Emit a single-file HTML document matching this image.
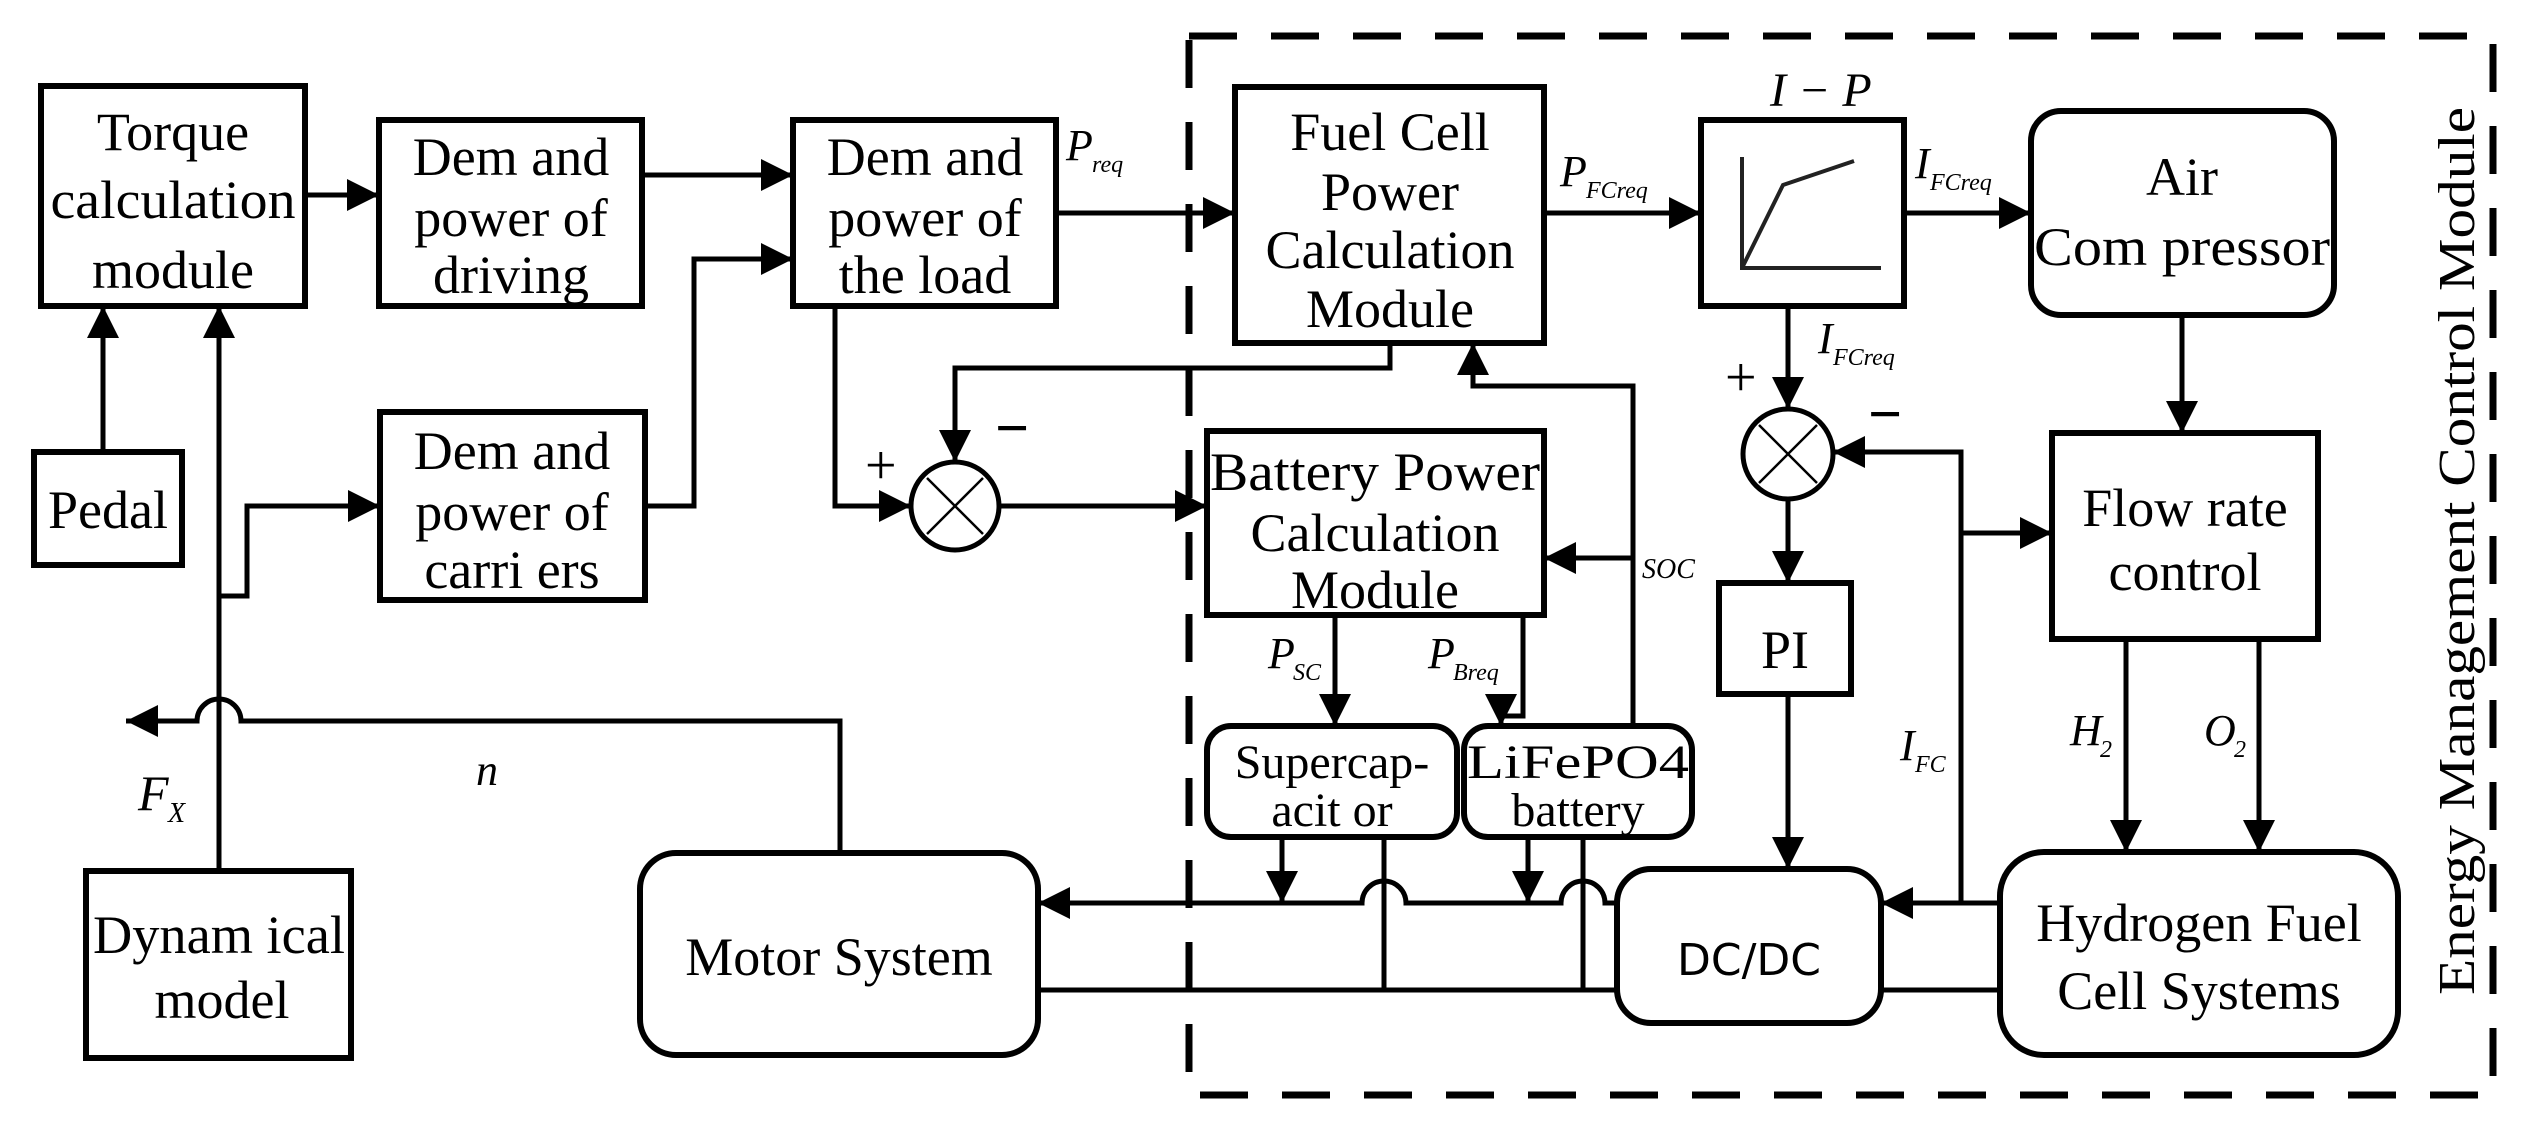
<!DOCTYPE html>
<html><head><meta charset="utf-8"><style>
html,body{margin:0;padding:0;background:#fff;}
svg{display:block;}
text{font-family:"Liberation Serif",serif;fill:#000;}
.b{font-size:54px;}
.s{font-size:48px;}
.i{font-style:italic;font-size:44px;}
.sub{font-style:italic;font-size:24px;}
</style></head><body>
<svg width="2528" height="1122" viewBox="0 0 2528 1122" xmlns="http://www.w3.org/2000/svg">
<defs>
<marker id="a" markerUnits="userSpaceOnUse" markerWidth="34" markerHeight="32" refX="32" refY="16" orient="auto">
<path d="M0,0 L32,16 L0,32 z" fill="#000"/></marker>
</defs>
<rect x="0" y="0" width="2528" height="1122" fill="#fff"/>
<!-- dashed module -->
<rect x="1189" y="36" width="1304" height="1059" fill="none" stroke="#000" stroke-width="7" stroke-dasharray="48 34"/>
<g fill="none" stroke="#000" stroke-width="6">
<rect x="41" y="86" width="264" height="220"/>
<rect x="379" y="120" width="263" height="186"/>
<rect x="793" y="120" width="263" height="186"/>
<rect x="34" y="452" width="148" height="113"/>
<rect x="380" y="412" width="265" height="188"/>
<rect x="86" y="871" width="265" height="187"/>
<rect x="640" y="853" width="398" height="202" rx="36"/>
<rect x="1235" y="87" width="309" height="256"/>
<rect x="1701" y="120" width="203" height="186"/>
<rect x="2031" y="111" width="303" height="204" rx="30"/>
<rect x="2052" y="433" width="266" height="206"/>
<rect x="1207" y="431" width="337" height="184"/>
<rect x="1719" y="583" width="132" height="111"/>
<rect x="1207" y="726" width="250" height="111" rx="24"/>
<rect x="1464" y="726" width="228" height="111" rx="24"/>
<rect x="1617" y="869" width="264" height="154" rx="34"/>
<rect x="2000" y="852" width="398" height="203" rx="44"/>
<circle cx="955" cy="506" r="44" stroke-width="5"/>
<circle cx="1788" cy="454" r="45" stroke-width="5"/>
</g>
<g stroke="#000" stroke-width="2.5">
<line x1="927" y1="478" x2="983" y2="534"/><line x1="983" y1="478" x2="927" y2="534"/>
<line x1="1759" y1="425" x2="1817" y2="483"/><line x1="1817" y1="425" x2="1759" y2="483"/>
</g>
<!-- I-P curve -->
<g fill="none" stroke="#222" stroke-width="4">
<path d="M1742,157 V268 H1881"/>
<path d="M1742,268 L1783,185 L1854,161"/>
</g>
<g fill="none" stroke="#000" stroke-width="5">
<path d="M305,195 H379" marker-end="url(#a)"/>
<path d="M642,175 H793" marker-end="url(#a)"/>
<path d="M645,506 H694 V259 H793" marker-end="url(#a)"/>
<path d="M103,452 V306" marker-end="url(#a)"/>
<path d="M219,871 V306" marker-end="url(#a)"/>
<path d="M219,596 H247 V506 H380" marker-end="url(#a)"/>
<path d="M835,306 V506 H911" marker-end="url(#a)"/>
<path d="M1056,213 H1235" marker-end="url(#a)"/>
<path d="M1390,343 V368 H955 V462" marker-end="url(#a)"/>
<path d="M999,506 H1207" marker-end="url(#a)"/>
<path d="M840,853 V721 H241 A22,22 0 0 0 197,721 H126" marker-end="url(#a)"/>
<path d="M1544,213 H1701" marker-end="url(#a)"/>
<path d="M1904,213 H2031" marker-end="url(#a)"/>
<path d="M2182,315 V433" marker-end="url(#a)"/>
<path d="M1788,306 V409" marker-end="url(#a)"/>
<path d="M1788,499 V583" marker-end="url(#a)"/>
<path d="M1788,694 V869" marker-end="url(#a)"/>
<path d="M2000,903 H1881" marker-end="url(#a)"/>
<path d="M1961,903 V452 H1833" marker-end="url(#a)"/>
<path d="M1961,533 H2052" marker-end="url(#a)"/>
<path d="M2000,990 H1881"/>
<path d="M2126,639 V852" marker-end="url(#a)"/>
<path d="M2259,639 V852" marker-end="url(#a)"/>
<path d="M1633,726 V386 H1473 V343" marker-end="url(#a)"/>
<path d="M1633,558 H1544" marker-end="url(#a)"/>
<path d="M1335,615 V726" marker-end="url(#a)"/>
<path d="M1523,615 V716 H1501 V726" marker-end="url(#a)"/>
<path d="M1617,903 H1605 A22,22 0 0 0 1561,903 H1406 A22,22 0 0 0 1362,903 H1038" marker-end="url(#a)"/>
<path d="M1282,837 V903" marker-end="url(#a)"/>
<path d="M1528,837 V903" marker-end="url(#a)"/>
<path d="M1038,990 H1617"/>
<path d="M1384,837 V990"/>
<path d="M1583,837 V990"/>
</g>
<!-- box text -->
<g class="b" text-anchor="middle">
<text x="173" y="150">Torque</text>
<text x="173" y="218" textLength="245" lengthAdjust="spacingAndGlyphs">calculation</text>
<text x="173" y="288">module</text>
<text x="511" y="175">Dem and</text><text x="511" y="236">power of</text><text x="511" y="293">driving</text>
<text x="925" y="175">Dem and</text><text x="925" y="236">power of</text><text x="925" y="293">the load</text>
<text x="512" y="469">Dem and</text><text x="512" y="530">power of</text><text x="512" y="588">carri ers</text>
<text x="108" y="528">Pedal</text>
<text x="219" y="953" textLength="252" lengthAdjust="spacingAndGlyphs">Dynam ical</text>
<text x="222" y="1018">model</text>
<text x="839" y="975">Motor System</text>
<text x="1390" y="150">Fuel Cell</text><text x="1390" y="210">Power</text>
<text x="1390" y="268">Calculation</text><text x="1390" y="327">Module</text>
<text x="1375" y="490" textLength="330" lengthAdjust="spacingAndGlyphs">Battery Power</text>
<text x="1375" y="551">Calculation</text><text x="1375" y="608">Module</text>
<text x="1785" y="668">PI</text>
<text x="2182" y="195">Air</text>
<text x="2182" y="265" textLength="296" lengthAdjust="spacingAndGlyphs">Com pressor</text>
<text x="2185" y="526">Flow rate</text><text x="2185" y="590">control</text>
<text x="2199" y="941">Hydrogen Fuel</text><text x="2199" y="1009">Cell Systems</text>
</g>
<g class="s" text-anchor="middle">
<text x="1332" y="778">Supercap-</text><text x="1332" y="826">acit or</text>
<text x="1578" y="778" textLength="222" lengthAdjust="spacingAndGlyphs">LiFePO4</text><text x="1578" y="826">battery</text>
</g>
<text x="1749" y="975" text-anchor="middle" style="font-family:'DejaVu Sans','Liberation Sans',sans-serif;font-size:44px">DC/DC</text>
<!-- labels -->
<text class="i" x="1066" y="160">P</text><text class="sub" x="1092" y="172">req</text>
<text class="i" x="138" y="810" style="font-size:50px">F</text><text class="sub" x="168" y="822" style="font-size:28px">X</text>
<text class="i" x="476" y="785">n</text>
<text class="i" x="1560" y="186">P</text><text class="sub" x="1586" y="198">FCreq</text>
<text class="i" x="1915" y="178">I</text><text class="sub" x="1930" y="190">FCreq</text>
<text class="i" x="1818" y="353">I</text><text class="sub" x="1833" y="365">FCreq</text>
<text class="i" x="1770" y="106" style="font-size:48px">I − P</text>
<text class="sub" x="1642" y="578" style="font-size:28px">SOC</text>
<text class="i" x="1268" y="668">P</text><text class="sub" x="1293" y="680">SC</text>
<text class="i" x="1428" y="668">P</text><text class="sub" x="1453" y="680">Breq</text>
<text class="i" x="1900" y="760">I</text><text class="sub" x="1915" y="772">FC</text>
<text class="i" x="2070" y="745">H</text><text class="sub" x="2100" y="757">2</text>
<text class="i" x="2204" y="745">O</text><text class="sub" x="2234" y="757">2</text>
<text x="865" y="484" style="font-size:56px">+</text>
<text x="995" y="448" style="font-size:60px;font-weight:bold">−</text>
<text x="1725" y="396" style="font-size:56px">+</text>
<text x="1868" y="434" style="font-size:60px;font-weight:bold">−</text>
<text transform="translate(2474,995) rotate(-90)" style="font-size:52px" textLength="888" lengthAdjust="spacingAndGlyphs">Energy Management Control Module</text>
</svg>
</body></html>
